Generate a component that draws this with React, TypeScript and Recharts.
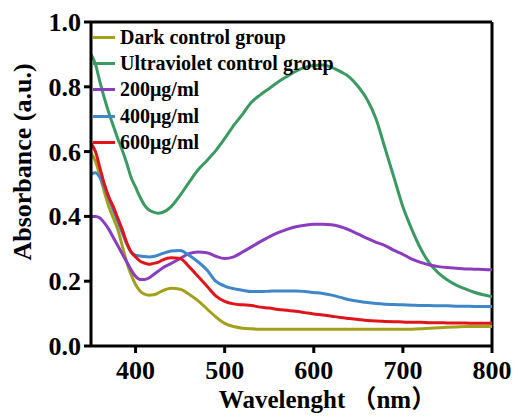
import React from "react";
import { LineChart, Line, XAxis, YAxis, ReferenceLine, Legend } from "recharts";

const wavelengths = [350, 355, 360, 365, 370, 375, 380, 385, 390, 395, 400, 405, 410, 415, 420, 425, 430, 440, 450, 460, 470, 480, 490, 500, 510, 520, 530, 540, 550, 560, 570, 580, 590, 600, 610, 620, 630, 640, 650, 660, 670, 680, 690, 700, 710, 720, 730, 740, 750, 760, 770, 780, 790, 800];

const darkControl = [0.595, 0.57, 0.525, 0.475, 0.43, 0.395, 0.36, 0.31, 0.26, 0.22, 0.19, 0.17, 0.16, 0.157, 0.158, 0.163, 0.17, 0.178, 0.175, 0.16, 0.14, 0.115, 0.09, 0.07, 0.06, 0.055, 0.053, 0.052, 0.052, 0.052, 0.052, 0.052, 0.052, 0.052, 0.052, 0.052, 0.052, 0.052, 0.052, 0.052, 0.052, 0.052, 0.052, 0.052, 0.052, 0.053, 0.055, 0.056, 0.058, 0.059, 0.06, 0.06, 0.06, 0.06];

const uvControl = [0.9, 0.87, 0.815, 0.765, 0.72, 0.68, 0.64, 0.605, 0.565, 0.52, 0.49, 0.46, 0.435, 0.42, 0.413, 0.41, 0.412, 0.43, 0.465, 0.505, 0.543, 0.572, 0.603, 0.64, 0.68, 0.715, 0.752, 0.775, 0.795, 0.815, 0.832, 0.848, 0.86, 0.866, 0.867, 0.86, 0.847, 0.83, 0.8, 0.76, 0.7, 0.61, 0.52, 0.43, 0.36, 0.3, 0.255, 0.225, 0.204, 0.188, 0.176, 0.166, 0.158, 0.152];

const conc200 = [0.4, 0.4, 0.395, 0.38, 0.36, 0.335, 0.31, 0.285, 0.26, 0.235, 0.215, 0.205, 0.205, 0.21, 0.22, 0.23, 0.24, 0.255, 0.27, 0.285, 0.29, 0.288, 0.277, 0.27, 0.275, 0.29, 0.306, 0.322, 0.337, 0.35, 0.36, 0.368, 0.373, 0.376, 0.376, 0.374, 0.368, 0.358, 0.345, 0.332, 0.32, 0.31, 0.295, 0.283, 0.268, 0.258, 0.25, 0.245, 0.242, 0.24, 0.238, 0.237, 0.236, 0.235];

const conc400 = [0.53, 0.535, 0.52, 0.49, 0.455, 0.42, 0.385, 0.35, 0.315, 0.29, 0.28, 0.278, 0.276, 0.275, 0.276, 0.28, 0.285, 0.293, 0.295, 0.28, 0.26, 0.235, 0.2, 0.185, 0.177, 0.172, 0.168, 0.168, 0.169, 0.17, 0.17, 0.17, 0.168, 0.165, 0.162, 0.157, 0.15, 0.143, 0.138, 0.134, 0.131, 0.129, 0.128, 0.127, 0.126, 0.125, 0.125, 0.124, 0.124, 0.123, 0.123, 0.122, 0.122, 0.122];

const conc600 = [0.625, 0.6, 0.55, 0.5, 0.46, 0.43, 0.395, 0.36, 0.32, 0.29, 0.275, 0.262, 0.256, 0.252, 0.255, 0.258, 0.265, 0.272, 0.27, 0.245, 0.215, 0.185, 0.155, 0.138, 0.13, 0.127, 0.125, 0.12, 0.117, 0.113, 0.11, 0.107, 0.103, 0.099, 0.096, 0.092, 0.088, 0.085, 0.082, 0.079, 0.077, 0.076, 0.075, 0.074, 0.073, 0.073, 0.072, 0.072, 0.071, 0.071, 0.071, 0.07, 0.07, 0.07];

const xTicks = [400, 500, 600, 700, 800];
const yTicks = [0, 0.2, 0.4, 0.6, 0.8, 1.0];

const seriesDefs = [
  { key: "dark", name: "Dark control group", color: "#a3a01c", values: darkControl },
  { key: "uv", name: "Ultraviolet control group", color: "#3a9a62", values: uvControl },
  { key: "c200", name: "200μg/ml", color: "#8a3dbf", values: conc200 },
  { key: "c400", name: "400μg/ml", color: "#3f87c9", values: conc400 },
  { key: "c600", name: "600μg/ml", color: "#e0141a", values: conc600 },
];

const data = wavelengths.map((w, i) => {
  const row: Record<string, number> = { w };
  seriesDefs.forEach((s) => {
    row[s.key] = s.values[i];
  });
  return row;
});

const FONT = "Liberation Serif, Noto Sans CJK SC, serif";

const XTick = (props: any) => {
  const { x, y, payload } = props;
  return (
    <text x={x} y={y + 17} textAnchor="middle" fill="#000" fontSize={26} fontWeight="bold" fontFamily={FONT}>
      {payload.value}
    </text>
  );
};

const YTick = (props: any) => {
  const { x, y, payload } = props;
  return (
    <text x={x} y={y + 9} textAnchor="end" fill="#000" fontSize={26} fontWeight="bold" fontFamily={FONT}>
      {Number(payload.value).toFixed(1)}
    </text>
  );
};

const LegendContent = () => (
  <div style={{ fontFamily: FONT, fontWeight: "bold", fontSize: 20, color: "#000" }}>
    {seriesDefs.map((s) => (
      <div key={s.key} style={{ display: "flex", alignItems: "center", height: 26.3, whiteSpace: "nowrap" }}>
        <span style={{ display: "inline-block", width: 22, height: 3, background: s.color, marginRight: 5 }} />
        <span>{s.name}</span>
      </div>
    ))}
  </div>
);

export default function App() {
  return (
    <div style={{ position: "absolute", left: 0, top: 0, background: "#fff" }}>
      <LineChart width={516} height={416} data={data} margin={{ top: 22, right: 24, bottom: 0, left: 0 }}>
        <XAxis
          dataKey="w"
          type="number"
          domain={[350, 800]}
          ticks={xTicks}
          allowDataOverflow
          height={70}
          axisLine={{ stroke: "#000", strokeWidth: 3 }}
          tickLine={{ stroke: "#000", strokeWidth: 3 }}
          tickSize={7}
          tickMargin={9}
          tick={<XTick />}
          label={(props: any) => {
            const vb = props.viewBox || { x: 91, width: 401 };
            return (
              <text
                x={vb.x + vb.width / 2 + 36}
                y={408}
                textAnchor="middle"
                fill="#000"
                fontSize={25}
                fontWeight="bold"
                fontFamily={FONT}
              >
                Wavelenght （nm）
              </text>
            );
          }}
        />
        <YAxis
          type="number"
          domain={[0, 1]}
          ticks={yTicks}
          width={91}
          axisLine={{ stroke: "#000", strokeWidth: 3 }}
          tickLine={{ stroke: "#000", strokeWidth: 3 }}
          tickSize={7}
          tickMargin={3}
          tick={<YTick />}
          label={() => (
            <text
              x={22}
              y={162}
              transform="rotate(-90, 22, 162)"
              textAnchor="middle"
              dominantBaseline="central"
              fill="#000"
              fontSize={26}
              fontWeight="bold"
              fontFamily={FONT}
            >
              Absorbance (a.u.)
            </text>
          )}
        />
        <ReferenceLine y={1} stroke="#000" strokeWidth={3} />
        <ReferenceLine x={800} stroke="#000" strokeWidth={3} />
        {seriesDefs.map((s) => (
          <Line
            key={s.key}
            dataKey={s.key}
            name={s.name}
            type="monotone"
            stroke={s.color}
            strokeWidth={3}
            dot={false}
            isAnimationActive={false}
          />
        ))}
        <Legend
          layout="vertical"
          align="center"
          verticalAlign="middle"
          content={<LegendContent />}
          wrapperStyle={{ top: 24, left: 93, width: "auto", height: "auto" }}
        />
      </LineChart>
    </div>
  );
}
